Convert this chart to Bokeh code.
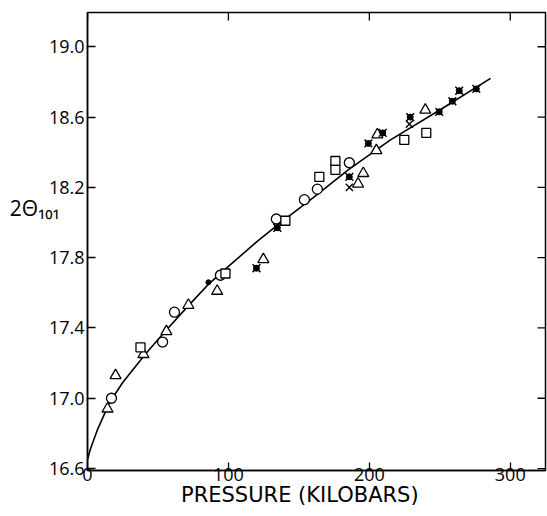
import math
from bokeh.plotting import figure
from bokeh.models import LinearAxis, FixedTicker, Range1d
from bokeh.embed import file_html
from bokeh.resources import INLINE

# ---- data ----
tri_x = [14.2, 19.9, 39.7, 56, 71.6, 92, 124.8, 192, 195.7, 205, 205.7, 239.7]
tri_y = [16.94, 17.13, 17.25, 17.38, 17.53, 17.61, 17.79, 18.22, 18.28, 18.41, 18.50, 18.64]

circ_x = [17, 53.3, 61.7, 94.3, 134, 153.9, 163.1, 185.8]
circ_y = [17.00, 17.32, 17.49, 17.70, 18.02, 18.13, 18.19, 18.34]

sq_x = [37.6, 97.9, 140.4, 164.5, 175.9, 175.9, 224.8, 240.4]
sq_y = [17.29, 17.71, 18.01, 18.26, 18.35, 18.30, 18.47, 18.51]

cross_x = [185.8, 228.4]
cross_y = [18.20, 18.56]

fx = [119.9, 134.7, 185.8, 199.3, 209.5, 229.0, 249.6, 258.9, 263.8, 275.9]
fy = [17.74, 17.97, 18.26, 18.45, 18.51, 18.60, 18.63, 18.69, 18.75, 18.76]

dot_x = [85.8]
dot_y = [17.66]

curve_x = [0, 2, 7, 12, 16, 25, 41, 55, 72, 86, 100, 120, 137, 160, 185, 215, 250, 286]
curve_y = [16.65, 16.71, 16.82, 16.91, 16.98, 17.09, 17.25, 17.38, 17.53, 17.65, 17.75,
           17.89, 18.00, 18.14, 18.30, 18.47, 18.64, 18.82]

x_ticks = [0, 100, 200, 300]
y_ticks = [16.6, 17.0, 17.4, 17.8, 18.2, 18.6, 19.0]
y_tick_labels = ["16.6", "17.0", "17.4", "17.8", "18.2", "18.6", "19.0"]

x_title = "PRESSURE (KILOBARS)"
y_title = "2Θ₁₀₁"

X0, X1 = 0, 325
Y0, Y1 = 16.589, 19.195

FONT = "Open Sans"

p = figure(width=547, height=516, output_backend="svg", toolbar_location=None,
           x_range=Range1d(X0, X1), y_range=Range1d(Y0, Y1),
           min_border_left=87, min_border_right=2, min_border_top=12, min_border_bottom=46,
           x_axis_type=None, y_axis_type=None)
p.background_fill_color = "white"
p.border_fill_color = "white"
p.outline_line_color = "black"
p.outline_line_width = 1.5
p.xgrid.visible = False
p.ygrid.visible = False


def style_axis(ax, ticks):
    ax.ticker = FixedTicker(ticks=ticks)
    ax.minor_tick_line_color = None
    ax.major_tick_in = 8
    ax.major_tick_out = 0
    ax.major_tick_line_width = 1.3
    ax.major_tick_line_color = "black"
    ax.axis_line_color = "black"
    ax.axis_line_width = 1.5
    ax.major_label_text_font = FONT
    ax.major_label_text_font_size = "18px"
    ax.major_label_text_color = "black"
    ax.axis_label_text_font = FONT
    ax.axis_label_text_font_style = "normal"
    ax.axis_label_text_color = "black"


bottom = LinearAxis()
style_axis(bottom, x_ticks)
bottom.major_label_standoff = -3
# trailing no-break spaces move the centred title a little left, as in the original
bottom.axis_label = x_title + "\u00a0" * 5
bottom.axis_label_text_font = "DejaVu Sans"
bottom.axis_label_text_font_size = "21px"
bottom.axis_label_standoff = -1
p.add_layout(bottom, "below")

left = LinearAxis()
style_axis(left, y_ticks)
left.major_label_standoff = 3
left.major_label_overrides = {t: s for t, s in zip(y_ticks, y_tick_labels)}
left.axis_label = y_title + "\n "
left.axis_label_orientation = "horizontal"
left.axis_label_text_font_size = "21px"
left.axis_label_text_line_height = 2.4
left.axis_label_standoff = -14
p.add_layout(left, "left")

# inward ticks on the top and right frame edges
p.ray(x=x_ticks, y=[Y1] * len(x_ticks), length=8, length_units="screen",
      angle=-math.pi / 2, line_color="black", line_width=1.3)
p.ray(x=[X1] * len(y_ticks), y=y_ticks, length=8, length_units="screen",
      angle=math.pi, line_color="black", line_width=1.3)

# fitted curve
p.line(curve_x, curve_y, line_color="black", line_width=1.6)

# markers
p.scatter(tri_x, tri_y, marker="triangle", size=11, fill_color="white",
          line_color="black", line_width=1.3)
p.scatter(circ_x, circ_y, marker="circle", size=10, fill_color="white",
          line_color="black", line_width=1.3)
p.scatter(sq_x, sq_y, marker="square", size=9, fill_color="white",
          line_color="black", line_width=1.3)
p.scatter(cross_x, cross_y, marker="x", size=10, line_color="black", line_width=1.4)
p.scatter(fx, fy, marker="x", size=11, line_color="black", line_width=1.5)
p.scatter(fx, fy, marker="circle", size=6, fill_color="black", line_color="black")
p.scatter(dot_x, dot_y, marker="circle", size=5, fill_color="black", line_color="black")

open("out.html", "w").write(file_html(p, INLINE))
